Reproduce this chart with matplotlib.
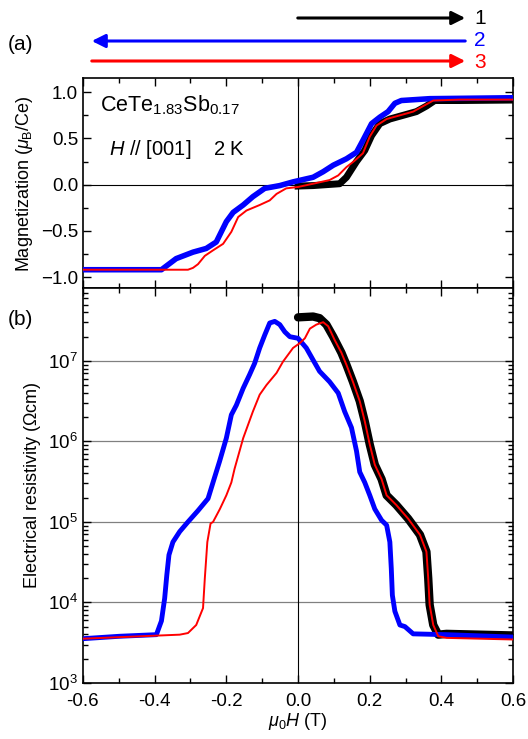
import numpy as np
import matplotlib
matplotlib.use('Agg')
import matplotlib.pyplot as plt
from matplotlib.ticker import MultipleLocator, LogLocator, NullFormatter

plt.rcParams['font.family'] = ['Liberation Sans', 'DejaVu Sans']
plt.rcParams['mathtext.fontset'] = 'custom'
plt.rcParams['mathtext.rm'] = 'Liberation Sans'
plt.rcParams['mathtext.it'] = 'Liberation Sans:italic'
plt.rcParams['font.size'] = 13

# magnetization, sweep 1 (0 -> +0.6), black
m1_h = [0.0, 0.042, 0.116, 0.135, 0.163, 0.186, 0.205, 0.228, 0.256, 0.293, 0.33, 0.358, 0.381, 0.45, 0.6]
m1_m = [-0.015, -0.01, 0.01, 0.08, 0.25, 0.37, 0.53, 0.66, 0.71, 0.75, 0.79, 0.85, 0.91, 0.91, 0.915]
# sweep 2 (+0.6 -> -0.6), blue
m2_h = [0.6, 0.367, 0.288, 0.27, 0.251, 0.228, 0.205, 0.181, 0.163, 0.135, 0.098, 0.07, 0.042,
        -0.014, -0.051, -0.093, -0.126, -0.153, -0.181, -0.2, -0.228, -0.256, -0.293, -0.34, -0.381, -0.6]
m2_m = [0.94, 0.93, 0.91, 0.88, 0.79, 0.73, 0.66, 0.48, 0.35, 0.28, 0.21, 0.14, 0.08,
        0.03, -0.01, -0.04, -0.13, -0.22, -0.30, -0.40, -0.62, -0.69, -0.73, -0.80, -0.92, -0.92]
# sweep 3 (-0.6 -> +0.6), red
m3_h = [-0.6, -0.307, -0.293, -0.279, -0.26, -0.237, -0.209, -0.186, -0.167, -0.144, -0.107, -0.079,
        -0.06, -0.033, 0.0, 0.042, 0.088, 0.112, 0.135, 0.158, 0.181, 0.2, 0.219, 0.247, 0.284,
        0.321, 0.349, 0.377, 0.45, 0.6]
m3_m = [-0.92, -0.92, -0.90, -0.86, -0.77, -0.71, -0.64, -0.51, -0.35, -0.28, -0.22, -0.17,
        -0.10, -0.04, -0.025, 0.01, 0.05, 0.10, 0.19, 0.26, 0.34, 0.52, 0.64, 0.71, 0.75,
        0.79, 0.85, 0.91, 0.92, 0.92]

# resistivity (log10 of Ohm cm)
r1_h = [0.0, 0.042, 0.06, 0.079, 0.098, 0.121, 0.135, 0.153, 0.172, 0.186, 0.2, 0.214, 0.233,
        0.247, 0.274, 0.307, 0.34, 0.358, 0.363, 0.367, 0.377, 0.391, 0.414, 0.6]
r1_lg = [7.54, 7.55, 7.53, 7.45, 7.30, 7.10, 6.95, 6.74, 6.50, 6.25, 5.96, 5.71, 5.53,
         5.33, 5.21, 5.04, 4.84, 4.63, 4.30, 3.97, 3.72, 3.60, 3.61, 3.59]
r2_h = [0.6, 0.414, 0.321, 0.298, 0.284, 0.27, 0.263, 0.26, 0.256, 0.247, 0.233, 0.214, 0.2,
        0.186, 0.172, 0.163, 0.149, 0.13, 0.112, 0.088, 0.06, 0.042, 0.023, 0.0, -0.023, -0.037,
        -0.051, -0.065, -0.079, -0.093, -0.107, -0.121, -0.135, -0.153, -0.172, -0.186, -0.2,
        -0.219, -0.233, -0.251, -0.279, -0.307, -0.33, -0.349, -0.36, -0.366, -0.372, -0.381,
        -0.395, -0.498, -0.6]
r2_lg = [3.57, 3.60, 3.61, 3.70, 3.72, 3.89, 4.09, 4.42, 4.75, 4.96, 5.02, 5.16, 5.33,
         5.49, 5.62, 5.88, 6.17, 6.37, 6.60, 6.74, 6.87, 7.01, 7.16, 7.28, 7.30, 7.36,
         7.45, 7.49, 7.47, 7.32, 7.16, 6.97, 6.83, 6.66, 6.45, 6.33, 6.04,
         5.75, 5.55, 5.29, 5.14, 5.00, 4.88, 4.75, 4.59, 4.34, 4.05, 3.77,
         3.60, 3.58, 3.55]
r3_h = [-0.6, -0.33, -0.307, -0.284, -0.265, -0.26, -0.253, -0.244, -0.237, -0.218, -0.2, -0.186,
        -0.177, -0.153, -0.126, -0.107, -0.088, -0.06, -0.042, -0.014, 0.005, 0.019, 0.033,
        0.051, 0.07, 0.084, 0.102, 0.121, 0.135, 0.153, 0.172, 0.186, 0.2, 0.214, 0.233,
        0.247, 0.274, 0.307, 0.34, 0.358, 0.363, 0.367, 0.377, 0.391, 0.414, 0.6]
r3_lg = [3.55, 3.60, 3.62, 3.72, 3.93, 4.30, 4.75, 4.98, 5.00, 5.16, 5.33, 5.49,
         5.66, 6.04, 6.37, 6.58, 6.70, 6.85, 6.99, 7.16, 7.22, 7.28, 7.40,
         7.45, 7.48, 7.43, 7.26, 7.10, 6.95, 6.74, 6.50, 6.25, 5.96, 5.71, 5.53,
         5.33, 5.21, 5.04, 4.84, 4.63, 4.30, 3.97, 3.72, 3.58, 3.56, 3.54]

fig = plt.figure(figsize=(5.28, 7.39), dpi=100)
ax1 = fig.add_axes([0.157, 0.610, 0.815, 0.284])
ax2 = fig.add_axes([0.157, 0.0758, 0.815, 0.534])

# panel (a)
ax1.axhline(0, color='k', lw=0.8, zorder=1)
ax1.axvline(0, color='k', lw=0.8, zorder=1)
ax1.plot(m1_h, m1_m, color='black', lw=5, zorder=2)
ax1.plot(m2_h, m2_m, color='blue', lw=4, zorder=3)
ax1.plot(m3_h, m3_m, color='red', lw=1.4, zorder=4)
ax1.set_xlim(-0.6, 0.6)
ax1.set_ylim(-1.12, 1.15)
ax1.yaxis.set_major_locator(MultipleLocator(0.5))
ax1.yaxis.set_minor_locator(MultipleLocator(0.25))
ax1.set_ylabel(r'Magnetization ($\mu_\mathrm{B}$/Ce)')
ax1.tick_params(labelbottom=False)
ax1.text(0.04, 0.93, r'CeTe$_{1.83}$Sb$_{0.17}$', transform=ax1.transAxes, fontsize=15.5, va='top')
ax1.text(0.06, 0.66, r'$H$ // [001]    2 K', transform=ax1.transAxes, fontsize=14.5, va='center')

# panel (b)
for v in [1e4, 1e5, 1e6, 1e7]:
    ax2.axhline(v, color='gray', lw=0.9, zorder=1)
ax2.axvline(0, color='k', lw=0.8, zorder=1)
ax2.plot(r1_h, 10 ** np.array(r1_lg), color='black', lw=6, zorder=2, solid_capstyle='round')
ax2.plot(r2_h, 10 ** np.array(r2_lg), color='blue', lw=3.5, zorder=3)
ax2.plot(r3_h, 10 ** np.array(r3_lg), color='red', lw=1.4, zorder=4)
ax2.set_yscale('log')
ax2.set_xlim(-0.6, 0.6)
ax2.set_ylim(1e3, 10 ** 7.9)
ax2.yaxis.set_major_locator(LogLocator(base=10, numticks=10))
ax2.yaxis.set_minor_locator(LogLocator(base=10, subs=np.arange(2, 10), numticks=20))
ax2.yaxis.set_minor_formatter(NullFormatter())
ax2.set_ylabel(r'Electrical resistivity ($\Omega$cm)')
ax2.set_xlabel(r'$\mu_0H$ (T)', labelpad=1)

for ax in (ax1, ax2):
    ax.xaxis.set_major_locator(MultipleLocator(0.2))
    ax.xaxis.set_minor_locator(MultipleLocator(0.1))
    ax.tick_params(which='both', direction='in', top=True, right=True, labelsize=13.5)
    ax.tick_params(which='major', length=6, width=1)
    ax.tick_params(which='minor', length=3.5, width=1)
    for s in ax.spines.values():
        s.set_linewidth(1.2)

ax2.tick_params(axis='x', pad=7)
ax2.xaxis.set_major_formatter(matplotlib.ticker.FormatStrFormatter('%.1f'))

# sweep arrows
def sweep_arrow(x0, x1, y, c):
    fig.add_artist(matplotlib.patches.FancyArrowPatch(
        (x0 / 528, 1 - y / 739), (x1 / 528, 1 - y / 739), transform=fig.transFigure,
        arrowstyle='-|>,head_length=8,head_width=4', mutation_scale=1, color=c, lw=2.2))

sweep_arrow(295, 468, 18, 'black')
sweep_arrow(468, 89, 41, 'blue')
sweep_arrow(89, 468, 61, 'red')
fig.text(474 / 528, 1 - 18 / 739, '1', color='black', fontsize=15, va='center')
fig.text(474 / 528, 1 - 41 / 739, '2', color='blue', fontsize=15, va='center')
fig.text(474 / 528, 1 - 63 / 739, '3', color='red', fontsize=15, va='center')
fig.text(8 / 528, 1 - 45 / 739, '(a)', fontsize=15, va='center')
fig.text(8 / 528, 1 - 320 / 739, '(b)', fontsize=15, va='center')

fig.savefig('out.png', dpi=100)
